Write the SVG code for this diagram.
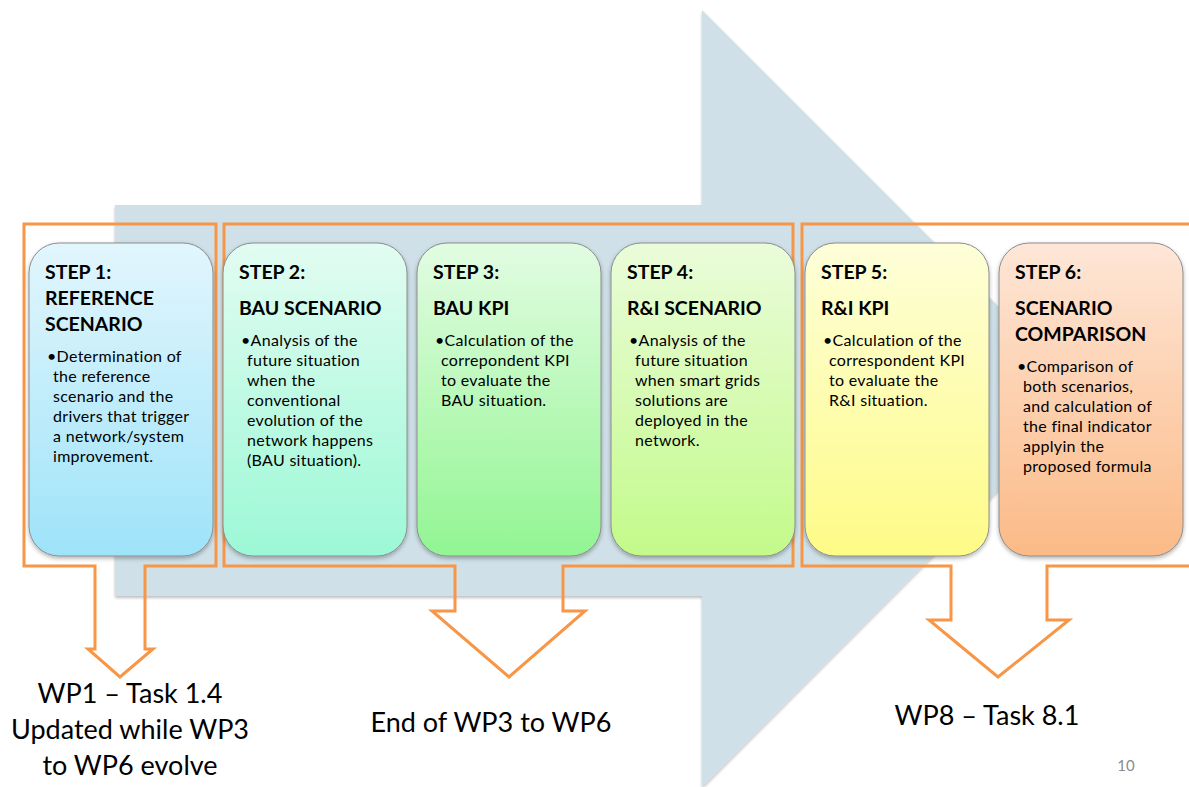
<svg xmlns="http://www.w3.org/2000/svg" width="1189" height="787" viewBox="0 0 1189 787">
  <style>
    .title { font-family: Lato, "Liberation Sans", sans-serif; font-weight: bold; font-size: 19.5px; fill: #000; }
    .body { font-family: Lato, "Liberation Sans", sans-serif; font-size: 16px; letter-spacing: 0.3px; fill: #000; }
    .label { font-family: Lato, "Liberation Sans", sans-serif; font-size: 27px; fill: #000; text-anchor: middle; }
    .pagenum { font-family: Lato, "Liberation Sans", sans-serif; font-size: 15px; fill: #8c8c8c; text-anchor: middle; }
    .bracket { fill: none; stroke: #F79646; stroke-width: 3; stroke-linejoin: miter; }
    .step { stroke: #8c8c8c; stroke-width: 1; filter: url(#boxShadow); }
  </style>
  <defs>
    <filter id="boxShadow" x="-10%" y="-10%" width="120%" height="120%">
      <feDropShadow dx="0" dy="2" stdDeviation="2" flood-color="#000" flood-opacity="0.3"/>
    </filter>
    <filter id="arrowShadow" x="-5%" y="-5%" width="110%" height="110%">
      <feDropShadow dx="0" dy="2" stdDeviation="1.5" flood-color="#000" flood-opacity="0.25"/>
    </filter>
    <linearGradient id="g1" x1="0" y1="0" x2="0" y2="1">
      <stop offset="0" stop-color="#E2F6FD"/>
      <stop offset="1" stop-color="#9EE3F9"/>
    </linearGradient>
    <linearGradient id="g2" x1="0" y1="0" x2="0" y2="1">
      <stop offset="0" stop-color="#E2FCF1"/>
      <stop offset="1" stop-color="#9CF8D6"/>
    </linearGradient>
    <linearGradient id="g3" x1="0" y1="0" x2="0" y2="1">
      <stop offset="0" stop-color="#E2FCE2"/>
      <stop offset="1" stop-color="#92F592"/>
    </linearGradient>
    <linearGradient id="g4" x1="0" y1="0" x2="0" y2="1">
      <stop offset="0" stop-color="#EAFCDA"/>
      <stop offset="1" stop-color="#C3FA8A"/>
    </linearGradient>
    <linearGradient id="g5" x1="0" y1="0" x2="0" y2="1">
      <stop offset="0" stop-color="#FEFED9"/>
      <stop offset="1" stop-color="#FEFB86"/>
    </linearGradient>
    <linearGradient id="g6" x1="0" y1="0" x2="0" y2="1">
      <stop offset="0" stop-color="#FEE6D7"/>
      <stop offset="1" stop-color="#FBBA86"/>
    </linearGradient>
  </defs>

  <rect width="1189" height="787" fill="#FFFFFF"/>

  <!-- large background process arrow -->
  <g id="process-arrow">
    <path d="M115,205 H702 V10 L1090,398 L702,787 V596 H115 Z" fill="#CFE0E8" filter="url(#arrowShadow)"/>
  </g>

  <!-- orange callout brackets pointing down to work packages -->
  <g id="connectors">
    <path class="bracket" d="M24,224 H216 V566 H145 V649 H153 L120,677 L88,649 H95 V566 H24 Z"/>
    <path class="bracket" d="M224,224 H793 V566 H563 V611 H585 L509,677 L432,611 H455 V566 H224 Z"/>
    <path class="bracket" d="M1195,224 H802 V566 H951 V620 H929 L998,677 L1069,620 H1047 V566 H1195"/>
  </g>

  <!-- step 1 -->
  <g id="step1">
    <rect class="step" x="29" y="243" width="184" height="313" rx="30" fill="url(#g1)"/>
    <text class="title" x="45" y="279">STEP 1:</text>
    <text class="title" x="45" y="305">REFERENCE</text>
    <text class="title" x="45" y="331">SCENARIO</text>
    <text class="body" x="47" y="362">•Determination of</text>
    <text class="body" x="53" y="382">the reference</text>
    <text class="body" x="53" y="402">scenario and the</text>
    <text class="body" x="53" y="422">drivers that trigger</text>
    <text class="body" x="53" y="442">a network/system</text>
    <text class="body" x="53" y="462">improvement.</text>
  </g>

  <!-- step 2 -->
  <g id="step2">
    <rect class="step" x="223" y="243" width="184" height="313" rx="30" fill="url(#g2)"/>
    <text class="title" x="239" y="279">STEP 2:</text>
    <text class="title" x="239" y="315">BAU SCENARIO</text>
    <text class="body" x="241" y="346">•Analysis of the</text>
    <text class="body" x="247" y="366">future situation</text>
    <text class="body" x="247" y="386">when the</text>
    <text class="body" x="247" y="406">conventional</text>
    <text class="body" x="247" y="426">evolution of the</text>
    <text class="body" x="247" y="446">network happens</text>
    <text class="body" x="247" y="466">(BAU situation).</text>
  </g>

  <!-- step 3 -->
  <g id="step3">
    <rect class="step" x="417" y="243" width="184" height="313" rx="30" fill="url(#g3)"/>
    <text class="title" x="433" y="279">STEP 3:</text>
    <text class="title" x="433" y="315">BAU KPI</text>
    <text class="body" x="435" y="346">•Calculation of the</text>
    <text class="body" x="441" y="366">correpondent KPI</text>
    <text class="body" x="441" y="386">to evaluate the</text>
    <text class="body" x="441" y="406">BAU situation.</text>
  </g>

  <!-- step 4 -->
  <g id="step4">
    <rect class="step" x="611" y="243" width="184" height="313" rx="30" fill="url(#g4)"/>
    <text class="title" x="627" y="279">STEP 4:</text>
    <text class="title" x="627" y="315">R&amp;I SCENARIO</text>
    <text class="body" x="629" y="346">•Analysis of the</text>
    <text class="body" x="635" y="366">future situation</text>
    <text class="body" x="635" y="386">when smart grids</text>
    <text class="body" x="635" y="406">solutions are</text>
    <text class="body" x="635" y="426">deployed in the</text>
    <text class="body" x="635" y="446">network.</text>
  </g>

  <!-- step 5 -->
  <g id="step5">
    <rect class="step" x="805" y="243" width="184" height="313" rx="30" fill="url(#g5)"/>
    <text class="title" x="821" y="279">STEP 5:</text>
    <text class="title" x="821" y="315">R&amp;I KPI</text>
    <text class="body" x="823" y="346">•Calculation of the</text>
    <text class="body" x="829" y="366">correspondent KPI</text>
    <text class="body" x="829" y="386">to evaluate the</text>
    <text class="body" x="829" y="406">R&amp;I situation.</text>
  </g>

  <!-- step 6 -->
  <g id="step6">
    <rect class="step" x="999" y="243" width="184" height="313" rx="30" fill="url(#g6)"/>
    <text class="title" x="1015" y="279">STEP 6:</text>
    <text class="title" x="1015" y="315">SCENARIO</text>
    <text class="title" x="1015" y="341">COMPARISON</text>
    <text class="body" x="1017" y="372">•Comparison of</text>
    <text class="body" x="1023" y="392">both scenarios,</text>
    <text class="body" x="1023" y="412">and calculation of</text>
    <text class="body" x="1023" y="432">the final indicator</text>
    <text class="body" x="1023" y="452">applyin the</text>
    <text class="body" x="1023" y="472">proposed formula</text>
  </g>

  <!-- work package labels -->
  <g id="wp1-label">
    <text class="label" x="130" y="703">WP1 – Task 1.4</text>
    <text class="label" x="130" y="739">Updated while WP3</text>
    <text class="label" x="130" y="775">to WP6 evolve</text>
  </g>
  <g id="wp3-label">
    <text class="label" x="491" y="732">End of WP3 to WP6</text>
  </g>
  <g id="wp8-label">
    <text class="label" x="987" y="725">WP8 – Task 8.1</text>
  </g>

  <text class="pagenum" x="1126" y="771">10</text>
</svg>
